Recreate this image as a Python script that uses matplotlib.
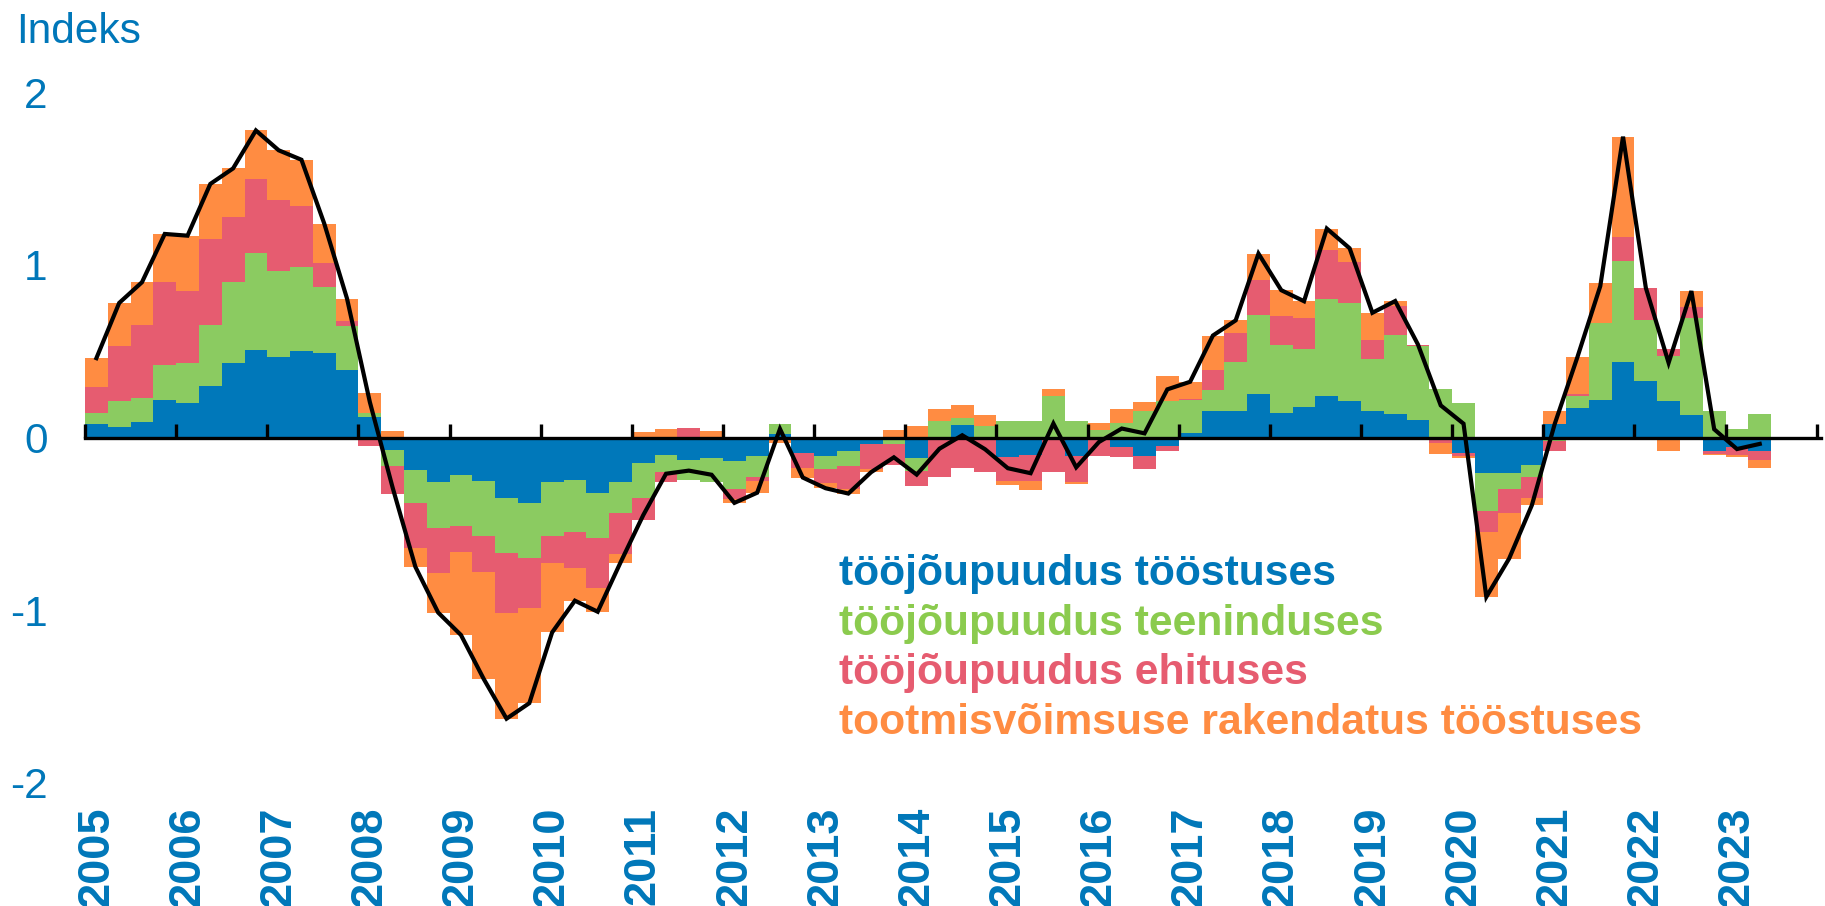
import numpy as np
import matplotlib
matplotlib.use("Agg")
import matplotlib.pyplot as plt
from matplotlib.transforms import blended_transform_factory

plt.rcParams['font.family'] = ['Liberation Sans', 'DejaVu Sans']

# Quarterly data 2005Q1 .. 2023Q2
start_year = 2005
tick_years = list(range(2005, 2025))
label_years = list(range(2005, 2024))
year_labels = [str(y) for y in label_years]

labour_industry = [0.08, 0.06, 0.09, 0.22, 0.20, 0.30, 0.43, 0.51, 0.465, 0.50, 0.49, 0.39,
                   0.12, -0.075, -0.19, -0.26, -0.215, -0.25, -0.35, -0.38, -0.26, -0.246, -0.32, -0.26,
                   -0.15, -0.10, -0.13, -0.12, -0.134, -0.11, 0.02, -0.09, -0.11, -0.076, -0.037, 0.0,
                   -0.116, 0.0, 0.074, 0.0, -0.114, -0.10, 0.0, -0.107, 0.0, -0.056, -0.105, -0.05,
                   0.025, 0.155, 0.151, 0.25, 0.141, 0.174, 0.242, 0.209, 0.155, 0.134, 0.103, 0.0,
                   -0.087, -0.207, -0.207, -0.159, 0.078, 0.17, 0.219, 0.436, 0.326, 0.213, 0.132, -0.081,
                   -0.056, -0.078]
labour_services = [0.06, 0.15, 0.14, 0.20, 0.23, 0.35, 0.47, 0.56, 0.50, 0.49, 0.38, 0.255,
                   0.02, -0.09, -0.19, -0.265, -0.30, -0.32, -0.32, -0.32, -0.31, -0.30, -0.26, -0.175,
                   -0.20, -0.10, -0.116, -0.136, -0.167, -0.12, 0.06, 0.0, -0.074, -0.09, 0.0, -0.04,
                   -0.08, 0.097, 0.039, 0.068, 0.097, 0.097, 0.238, 0.097, 0.045, 0.083, 0.151, 0.21,
                   0.19, 0.122, 0.287, 0.463, 0.393, 0.341, 0.562, 0.570, 0.302, 0.463, 0.426, 0.283,
                   0.20, -0.217, -0.093, -0.072, -0.02, 0.072, 0.442, 0.587, 0.358, 0.258, 0.562, 0.151,
                   0.048, 0.138]
labour_construction = [0.15, 0.32, 0.42, 0.48, 0.42, 0.50, 0.38, 0.43, 0.41, 0.35, 0.14, 0.03,
                       -0.05, -0.16, -0.26, -0.26, -0.15, -0.21, -0.35, -0.29, -0.16, -0.21, -0.29, -0.24,
                       -0.13, -0.06, 0.054, 0.0, -0.058, -0.02, 0.0, -0.087, -0.08, -0.134, -0.147, -0.12,
                       -0.083, -0.23, -0.178, -0.198, -0.138, -0.15, -0.20, -0.153, -0.11, -0.058, -0.076, -0.03,
                       0.008, 0.116, 0.169, 0.20, 0.169, 0.178, 0.283, 0.238, 0.107, 0.165, 0.01, -0.033,
                       -0.023, -0.126, -0.14, -0.122, -0.058, 0.01, -0.017, 0.14, 0.184, 0.043, 0.064, -0.014,
                       -0.045, -0.052]
capacity_utilisation = [0.17, 0.25, 0.25, 0.28, 0.32, 0.32, 0.28, 0.28, 0.29, 0.27, 0.23, 0.13,
                        0.116, 0.035, -0.11, -0.23, -0.48, -0.62, -0.61, -0.55, -0.40, -0.19, -0.14, -0.05,
                        0.03, 0.05, 0.0, 0.04, -0.02, -0.07, -0.03, -0.055, -0.03, -0.025, -0.017, 0.045,
                        0.064, 0.068, 0.078, 0.062, -0.023, -0.054, 0.043, -0.01, 0.039, 0.083, 0.054, 0.149,
                        0.10, 0.198, 0.072, 0.153, 0.151, 0.097, 0.124, 0.08, 0.159, 0.029, 0.0, -0.064,
                        -0.01, -0.374, -0.262, -0.039, 0.078, 0.215, 0.233, 0.581, 0.0, -0.081, 0.091, -0.008,
                        -0.014, -0.045]

series_names = ["tööjõupuudus tööstuses", "tööjõupuudus teeninduses",
                "tööjõupuudus ehituses", "tootmisvõimsuse rakendatus tööstuses"]
series = [labour_industry, labour_services, labour_construction, capacity_utilisation]
colors = ["#0078BA", "#8BCB61", "#E65C70", "#FF8C42"]
text_colors = ["#0077B9", "#8BCB4E", "#E65C70", "#FF8C42"]
axis_blue = "#0077B9"

n = len(labour_industry)
x = start_year + np.arange(n) * 0.25
data = np.array(series)
total = data.sum(axis=0)

fig = plt.figure(figsize=(18.25, 9.06), dpi=100)
ax = fig.add_axes([85 / 1825, 1 - 782.5 / 906, (1821 - 85) / 1825, 690 / 906])

pos_base = np.zeros(n)
neg_base = np.zeros(n)
for vals, c in zip(data, colors):
    p = np.where(vals > 0, vals, 0)
    q = np.where(vals < 0, vals, 0)
    ax.bar(x, p, width=0.25, bottom=pos_base, align='edge', color=c, linewidth=0)
    ax.bar(x, q, width=0.25, bottom=neg_base, align='edge', color=c, linewidth=0)
    pos_base += p
    neg_base += q

ax.plot(x + 0.125, total, color='black', linewidth=3.0, zorder=5, solid_joinstyle='miter')

ax.set_xlim(2005, 2024.047)
ax.set_ylim(-2, 2)

for s in ['top', 'right', 'left']:
    ax.spines[s].set_visible(False)
ax.spines['bottom'].set_position(('data', 0))
ax.spines['bottom'].set_linewidth(2.4)
ax.spines['bottom'].set_zorder(6)
ax.set_xticks(tick_years)
ax.tick_params(axis='x', direction='in', length=10, width=2.4, labelbottom=False)

ax.set_yticks([-2, -1, 0, 1, 2])
ax.set_yticklabels(['-2', '-1', '0', '1', '2'])
ax.tick_params(axis='y', length=0, pad=27, labelsize=30.5, labelcolor=axis_blue)

trans = blended_transform_factory(ax.transData, ax.transAxes)
for yr, lab in zip(label_years, year_labels):
    ax.text(yr + 0.125, -0.035, lab, transform=trans, rotation=90, ha='center', va='top',
            fontsize=32.5, fontweight='bold', color=axis_blue, clip_on=False)

fig.text(16 / 1825, 1 - 43 / 906, "Indeks", fontsize=30.5, color=axis_blue, va='baseline', ha='left')

legend_y = [585, 634.5, 684, 733.5]
for name, c, py in zip(series_names, text_colors, legend_y):
    fig.text(839 / 1825, 1 - py / 906, name, fontsize=30.7, fontweight='bold', color=c,
             va='baseline', ha='left')

fig.savefig("out.png", dpi=100)
